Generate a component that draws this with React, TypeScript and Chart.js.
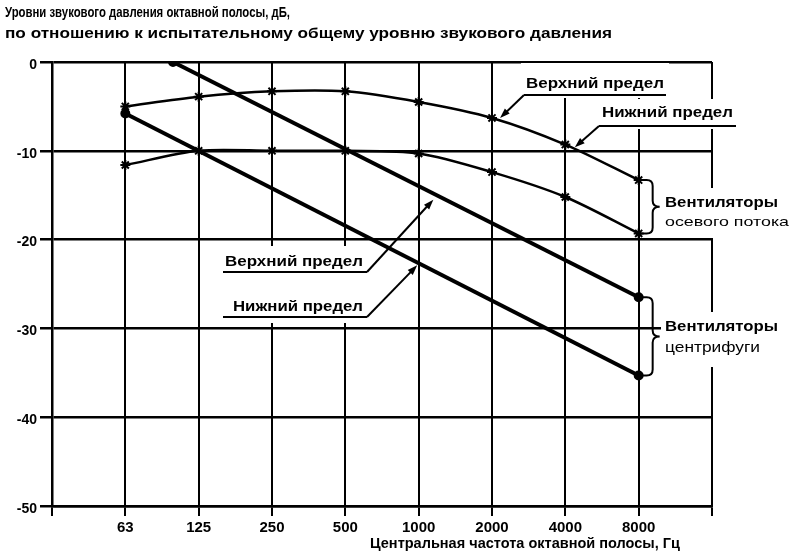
import React, { useEffect, useRef } from 'react';
import { Chart, registerables } from 'chart.js';

Chart.register(...registerables);

// ---- data ----
const freqLabels = ['63', '125', '250', '500', '1000', '2000', '4000', '8000'];
const axialUpper = [-5.0, -3.9, -3.3, -3.3, -4.5, -6.3, -9.3, -13.3];
const axialLower = [-11.6, -10.0, -10.0, -10.0, -10.3, -12.4, -15.2, -19.3];
const centUpperX = [1.65, 8];
const centUpperY = [0, -26.5];
const centLowerX = [1, 8];
const centLowerY = [-5.8, -35.3];

const titleLines = [
  'Уровни звукового давления октавной полосы, дБ,',
  'по отношению к испытательному общему уровню звукового давления',
];
const xTitle = 'Центральная частота октавной полосы, Гц';
const upperLimit = 'Верхний предел';
const lowerLimit = 'Нижний предел';
const axialName = ['Вентиляторы', 'осевого потока'];
const centName = ['Вентиляторы', 'центрифуги'];

const FONT = '"Liberation Sans", Arial, sans-serif';

function fitText(ctx: CanvasRenderingContext2D, text: string, x: number, y: number, width: number, size: number, align = 'left', weight = 'bold') {
  ctx.save();
  ctx.font = `${weight} ${size}px ${FONT}`;
  const w = ctx.measureText(text).width;
  const s = width / w;
  ctx.textBaseline = 'middle';
  ctx.textAlign = 'left';
  ctx.fillStyle = '#000';
  const left = align === 'left' ? x : align === 'right' ? x - width : x - width / 2;
  ctx.translate(left, y);
  ctx.scale(s, 1);
  ctx.fillText(text, 0, 0);
  ctx.restore();
}

function arrow(ctx: CanvasRenderingContext2D, x1: number, y1: number, x2: number, y2: number) {
  ctx.save();
  ctx.strokeStyle = '#000';
  ctx.fillStyle = '#000';
  ctx.lineWidth = 2;
  const a = Math.atan2(y2 - y1, x2 - x1);
  const L = 10, H = 3.5;
  ctx.beginPath();
  ctx.moveTo(x1, y1);
  ctx.lineTo(x2 - Math.cos(a) * L * 0.8, y2 - Math.sin(a) * L * 0.8);
  ctx.stroke();
  ctx.beginPath();
  ctx.moveTo(x2, y2);
  ctx.lineTo(x2 - Math.cos(a) * L - Math.sin(a) * H, y2 - Math.sin(a) * L + Math.cos(a) * H);
  ctx.lineTo(x2 - Math.cos(a) * L + Math.sin(a) * H, y2 - Math.sin(a) * L - Math.cos(a) * H);
  ctx.closePath();
  ctx.fill();
  ctx.restore();
}

function brace(ctx: CanvasRenderingContext2D, x0: number, top: number, bottom: number) {
  const mid = (top + bottom) / 2;
  const r = 6;
  const xv = x0 + 12;
  ctx.save();
  ctx.strokeStyle = '#000';
  ctx.lineWidth = 2;
  ctx.beginPath();
  ctx.moveTo(x0, top);
  ctx.lineTo(xv - r, top);
  ctx.quadraticCurveTo(xv, top, xv, top + r);
  ctx.lineTo(xv, mid - r);
  ctx.quadraticCurveTo(xv, mid, xv + 7, mid);
  ctx.quadraticCurveTo(xv, mid, xv, mid + r);
  ctx.lineTo(xv, bottom - r);
  ctx.quadraticCurveTo(xv, bottom, xv - r, bottom);
  ctx.lineTo(x0, bottom);
  ctx.stroke();
  ctx.restore();
}

const limitNotes = [
  { text: upperLimit, tx: 526, ty: 84, tw: 138, ux1: 524, ux2: 666, uy: 95, start: 'left', tip: [6.11, -6.3] },
  { text: lowerLimit, tx: 602, ty: 113, tw: 131, ux1: 599, ux2: 736, uy: 126, start: 'left', tip: [7.13, -9.6] },
  { text: upperLimit, tx: 225, ty: 262, tw: 138, ux1: 223, ux2: 367, uy: 272, start: 'right', tip: [5.2, -15.5] },
  { text: lowerLimit, tx: 233, ty: 307, tw: 130, ux1: 223, ux2: 367, uy: 317, start: 'right', tip: [4.98, -22.9] },
];

const whiteBoxes = [
  [521, 63, 148, 35],
  [597, 99, 142, 30],
  [222, 246, 148, 77],
  [661, 188, 133, 50],
  [661, 312, 133, 55],
];

const annotPlugin = {
  id: 'annot',
  beforeDatasetsDraw(chart: any) {
    const ctx = chart.ctx as CanvasRenderingContext2D;
    ctx.save();
    ctx.fillStyle = '#fff';
    whiteBoxes.forEach(([x, y, w, h]) => ctx.fillRect(x, y, w, h));
    ctx.restore();
  },
  afterDraw(chart: any) {
    const ctx = chart.ctx as CanvasRenderingContext2D;
    const xs = chart.scales.x;
    const ys = chart.scales.y;
    fitText(ctx, titleLines[0], 5, 13, 285, 14);
    fitText(ctx, titleLines[1], 5, 34, 607, 14);
    fitText(ctx, xTitle, 680, 544, 310, 14, 'right');

    limitNotes.forEach((n) => {
      fitText(ctx, n.text, n.tx, n.ty, n.tw, 14);
      ctx.save();
      ctx.strokeStyle = '#000';
      ctx.lineWidth = 2;
      ctx.beginPath();
      ctx.moveTo(n.ux1, n.uy);
      ctx.lineTo(n.ux2, n.uy);
      ctx.stroke();
      ctx.restore();
      const sx = n.start === 'left' ? n.ux1 : n.ux2;
      arrow(ctx, sx, n.uy, xs.getPixelForValue(n.tip[0]), ys.getPixelForValue(n.tip[1]));
    });

    const x8 = xs.getPixelForValue(8);
    brace(ctx, x8 + 2, ys.getPixelForValue(axialUpper[7]), ys.getPixelForValue(axialLower[7]));
    brace(ctx, x8 + 2, ys.getPixelForValue(centUpperY[1]), ys.getPixelForValue(centLowerY[1]));
    fitText(ctx, axialName[0], 665, 203, 113, 14);
    fitText(ctx, axialName[1], 665, 222, 124, 13, 'left', 'normal');
    fitText(ctx, centName[0], 665, 327, 113, 14);
    fitText(ctx, centName[1], 665, 348, 95, 14, 'left', 'normal');
  },
};

export default function App() {
  const ref = useRef<HTMLCanvasElement>(null);
  useEffect(() => {
    if (!ref.current) return;
    const tickFont = { family: FONT, size: 15, weight: 'bold' as const };
    const chart = new Chart(ref.current, {
      type: 'line',
      data: {
        datasets: [
          {
            data: axialUpper.map((y, i) => ({ x: i + 1, y })),
            borderColor: '#000', backgroundColor: '#000', borderWidth: 2.5,
            pointStyle: 'star', pointRadius: 5, pointBorderWidth: 2, tension: 0.3,
          },
          {
            data: axialLower.map((y, i) => ({ x: i + 1, y })),
            borderColor: '#000', backgroundColor: '#000', borderWidth: 2.5,
            pointStyle: 'star', pointRadius: 5, pointBorderWidth: 2, tension: 0.3,
          },
          {
            data: centUpperX.map((x, i) => ({ x, y: centUpperY[i] })),
            borderColor: '#000', backgroundColor: '#000', borderWidth: 4,
            pointStyle: 'circle', pointRadius: 3, tension: 0,
          },
          {
            data: centLowerX.map((x, i) => ({ x, y: centLowerY[i] })),
            borderColor: '#000', backgroundColor: '#000', borderWidth: 4,
            pointStyle: 'circle', pointRadius: 3, tension: 0,
          },
        ],
      },
      options: {
        animation: false,
        responsive: false,
        devicePixelRatio: 1,
        layout: { padding: { top: 62, right: 82, left: 0, bottom: 0 } },
        plugins: { legend: { display: false }, tooltip: { enabled: false }, title: { display: false } },
        scales: {
          x: {
            type: 'linear', min: 0, max: 9,
            ticks: {
              stepSize: 1, autoSkip: false, maxRotation: 0, color: '#000', font: tickFont, padding: 3,
              callback: (v: any) => (v >= 1 && v <= 8 ? freqLabels[v - 1] : ''),
            },
            grid: { color: '#000', lineWidth: 2, tickLength: 10 },
            border: { color: '#000', width: 2.5 },
            afterFit: (s: any) => { s.height = 47; },
          },
          y: {
            min: -50, max: 0,
            ticks: { stepSize: 10, color: '#000', font: { ...tickFont, size: 14 }, padding: 3, labelOffset: 3 },
            grid: { color: '#000', lineWidth: 2.5, tickLength: 12 },
            border: { color: '#000', width: 2.5 },
            afterFit: (s: any) => { s.width = 52; },
          },
        },
      },
      plugins: [annotPlugin],
    } as any);
    return () => chart.destroy();
  }, []);
  return (
    <div style={{ position: 'fixed', left: 0, top: 0, width: 794, height: 553, background: '#fff' }}>
      <canvas ref={ref} width={794} height={553} />
    </div>
  );
}
